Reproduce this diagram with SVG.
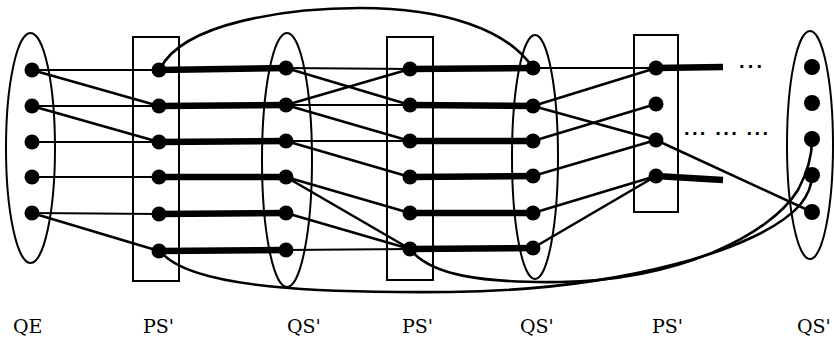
<svg xmlns="http://www.w3.org/2000/svg" width="834" height="338" viewBox="0 0 834 338">
<style>
.set{fill:none;stroke:#000;stroke-width:2}
.dot{fill:#000}
.thin{stroke:#000;stroke-width:2;fill:none}
.diag{stroke:#000;stroke-width:2.6;fill:none}
.thick{stroke:#000;stroke-width:6.5;fill:none;stroke-linecap:butt}
.curve{stroke:#000;stroke-width:2.6;fill:none}
.lbl{font-family:"DejaVu Serif","Liberation Serif",serif;font-size:19px;fill:#000}
.ell{font-family:"DejaVu Sans","Liberation Sans",sans-serif;font-size:16px;font-weight:bold;fill:#000}
</style>
<rect width="834" height="338" fill="#fff"/>
<g id="sets">
<g id="QE"><ellipse class="set" cx="30.5" cy="148" rx="24.5" ry="115"/></g>
<g id="PS1"><rect class="set" x="133" y="37" width="46" height="244"/></g>
<g id="QS1"><ellipse class="set" cx="287" cy="160" rx="25" ry="127"/></g>
<g id="PS2"><rect class="set" x="387" y="37" width="46" height="243"/></g>
<g id="QS2"><ellipse class="set" cx="535" cy="157" rx="23" ry="122"/></g>
<g id="PS3"><rect class="set" x="634" y="35" width="44" height="177"/></g>
<g id="QS3"><ellipse class="set" cx="810" cy="145" rx="23" ry="114"/></g>
</g>
<g id="connectors">
<path class="curve" d="M160,69 C183,22 290,8 360,8 C445,8 508,30 533,68"/>
<path class="curve" d="M160,251 C190,290 330,293 450,292 C620,290 760,250 800,205 C808,195 812,185 812,175"/>
<path class="curve" d="M410,249 C430,275 480,283 560,282 C680,280 770,235 798,190 C806,175 812,160 812,140"/>
<line class="thin" x1="32" y1="70" x2="159" y2="70"/>
<line class="thin" x1="32" y1="106" x2="159" y2="106"/>
<line class="thin" x1="32" y1="142" x2="159" y2="142"/>
<line class="thin" x1="32" y1="177" x2="159" y2="177"/>
<line class="thin" x1="32" y1="213" x2="159" y2="214"/>
<line class="thin" x1="286" y1="68" x2="410" y2="69"/>
<line class="thin" x1="286" y1="105" x2="410" y2="105"/>
<line class="thin" x1="286" y1="141" x2="410" y2="141"/>
<line class="thin" x1="286" y1="250" x2="410" y2="249"/>
<line class="thin" x1="533" y1="68" x2="656" y2="68"/>
<line class="diag" x1="32" y1="70" x2="159" y2="106"/>
<line class="diag" x1="32" y1="106" x2="159" y2="142"/>
<line class="diag" x1="32" y1="213" x2="159" y2="251"/>
<line class="diag" x1="286" y1="68" x2="410" y2="105"/>
<line class="diag" x1="286" y1="105" x2="410" y2="69"/>
<line class="diag" x1="286" y1="105" x2="410" y2="141"/>
<line class="diag" x1="286" y1="141" x2="410" y2="177"/>
<line class="diag" x1="286" y1="177" x2="410" y2="213"/>
<line class="diag" x1="286" y1="177" x2="410" y2="249"/>
<line class="diag" x1="286" y1="213" x2="410" y2="249"/>
<line class="diag" x1="533" y1="106" x2="656" y2="68"/>
<line class="diag" x1="533" y1="106" x2="656" y2="140"/>
<line class="diag" x1="533" y1="141" x2="656" y2="104"/>
<line class="diag" x1="533" y1="176" x2="656" y2="140"/>
<line class="diag" x1="533" y1="213" x2="656" y2="176"/>
<line class="diag" x1="533" y1="248" x2="656" y2="176"/>
<line class="diag" x1="656" y1="140" x2="812" y2="212"/>
<line class="thick" x1="159" y1="70" x2="286" y2="68"/>
<line class="thick" x1="159" y1="106" x2="286" y2="105"/>
<line class="thick" x1="159" y1="142" x2="286" y2="141"/>
<line class="thick" x1="159" y1="177" x2="286" y2="177"/>
<line class="thick" x1="159" y1="214" x2="286" y2="213"/>
<line class="thick" x1="159" y1="251" x2="286" y2="250"/>
<line class="thick" x1="410" y1="69" x2="533" y2="68"/>
<line class="thick" x1="410" y1="105" x2="533" y2="106"/>
<line class="thick" x1="410" y1="141" x2="533" y2="141"/>
<line class="thick" x1="410" y1="177" x2="533" y2="176"/>
<line class="thick" x1="410" y1="213" x2="533" y2="213"/>
<line class="thick" x1="410" y1="249" x2="533" y2="248"/>
<line class="thick" x1="656" y1="68" x2="723" y2="67"/>
<line class="thick" x1="656" y1="176" x2="723" y2="180"/>
</g>
<g id="dots">
<g id="QE-dots"><circle class="dot" cx="32" cy="70" r="7.5"/><circle class="dot" cx="32" cy="106" r="7.5"/><circle class="dot" cx="32" cy="142" r="7.5"/><circle class="dot" cx="32" cy="177" r="7.5"/><circle class="dot" cx="32" cy="213" r="7.5"/></g>
<g id="PS1-dots"><circle class="dot" cx="159" cy="70" r="7.5"/><circle class="dot" cx="159" cy="106" r="7.5"/><circle class="dot" cx="159" cy="142" r="7.5"/><circle class="dot" cx="159" cy="177" r="7.5"/><circle class="dot" cx="159" cy="214" r="7.5"/><circle class="dot" cx="159" cy="251" r="7.5"/></g>
<g id="QS1-dots"><circle class="dot" cx="286" cy="68" r="7.5"/><circle class="dot" cx="286" cy="105" r="7.5"/><circle class="dot" cx="286" cy="141" r="7.5"/><circle class="dot" cx="286" cy="177" r="7.5"/><circle class="dot" cx="286" cy="213" r="7.5"/><circle class="dot" cx="286" cy="250" r="7.5"/></g>
<g id="PS2-dots"><circle class="dot" cx="410" cy="69" r="7.5"/><circle class="dot" cx="410" cy="105" r="7.5"/><circle class="dot" cx="410" cy="141" r="7.5"/><circle class="dot" cx="410" cy="177" r="7.5"/><circle class="dot" cx="410" cy="213" r="7.5"/><circle class="dot" cx="410" cy="249" r="7.5"/></g>
<g id="QS2-dots"><circle class="dot" cx="533" cy="68" r="7.5"/><circle class="dot" cx="533" cy="106" r="7.5"/><circle class="dot" cx="533" cy="141" r="7.5"/><circle class="dot" cx="533" cy="176" r="7.5"/><circle class="dot" cx="533" cy="213" r="7.5"/><circle class="dot" cx="533" cy="248" r="7.5"/></g>
<g id="PS3-dots"><circle class="dot" cx="656" cy="68" r="7.5"/><circle class="dot" cx="656" cy="104" r="7.5"/><circle class="dot" cx="656" cy="140" r="7.5"/><circle class="dot" cx="656" cy="176" r="7.5"/></g>
<g id="QS3-dots"><circle class="dot" cx="812" cy="67" r="8"/><circle class="dot" cx="812" cy="103" r="8"/><circle class="dot" cx="812" cy="139" r="8"/><circle class="dot" cx="812" cy="175" r="8"/><circle class="dot" cx="812" cy="212" r="8"/></g>
</g>
<g id="ellipses">
<text class="ell" x="738.7" y="68.3" textLength="23.6" lengthAdjust="spacing">...</text>
<text class="ell" x="683.7" y="135" textLength="84.6" lengthAdjust="spacing">... ... ...</text>
</g>
<g id="labels">
<text class="lbl" x="13" y="333">QE</text>
<text class="lbl" x="143" y="333">PS'</text>
<text class="lbl" x="287" y="333">QS'</text>
<text class="lbl" x="402" y="333">PS'</text>
<text class="lbl" x="520" y="333">QS'</text>
<text class="lbl" x="652" y="333">PS'</text>
<text class="lbl" x="797" y="333">QS'</text>
</g>
</svg>
